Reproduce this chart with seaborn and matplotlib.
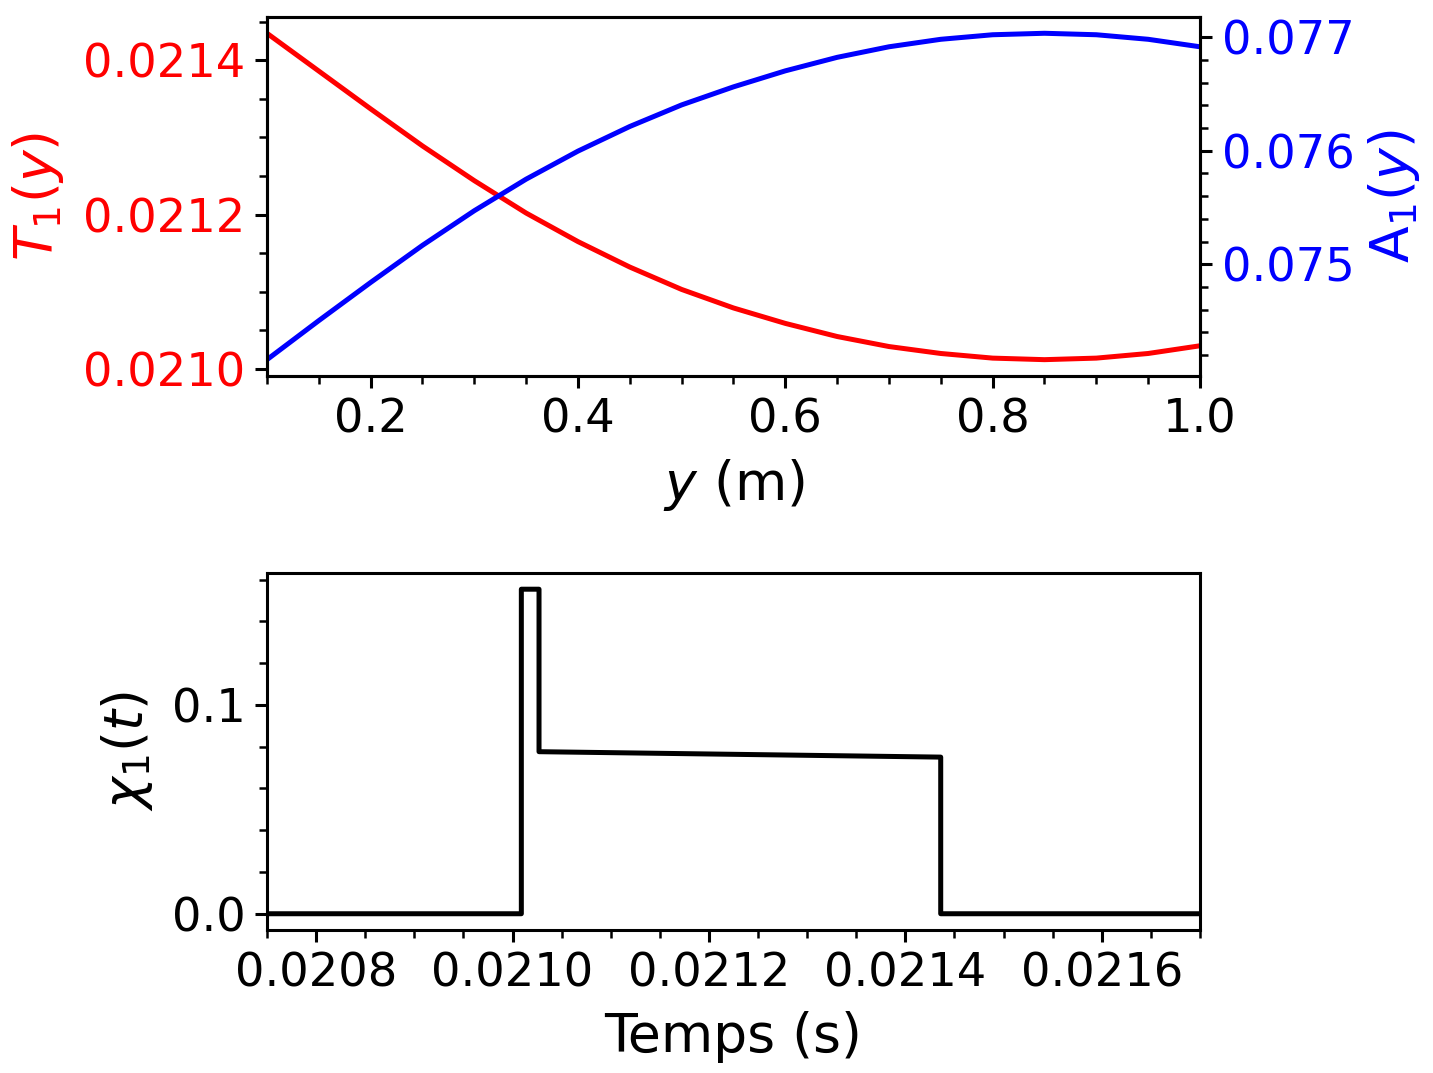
import numpy as np
import pandas as pd
import matplotlib
matplotlib.use('Agg')
import matplotlib.pyplot as plt
from matplotlib.ticker import MultipleLocator, AutoMinorLocator
import seaborn as sns

# --- données ---
# profil le long de y
y_pos = [0.10, 0.15, 0.20, 0.25, 0.30, 0.35, 0.40, 0.45, 0.50, 0.55,
         0.60, 0.65, 0.70, 0.75, 0.80, 0.85, 0.90, 0.95, 1.00]
T1 = [0.021435, 0.021386, 0.021337, 0.021289, 0.021244, 0.021202, 0.021165,
      0.021132, 0.021103, 0.021079, 0.021059, 0.021042, 0.021029, 0.021020,
      0.021014, 0.021012, 0.021014, 0.021020, 0.021030]
A1 = [0.074160, 0.074504, 0.074840, 0.075167, 0.075472, 0.075750, 0.075997,
      0.076214, 0.076404, 0.076563, 0.076704, 0.076823, 0.076916, 0.076982,
      0.077022, 0.077035, 0.077022, 0.076982, 0.076916]

# signal chi_1(t) (créneau)
t_vals = [0.02070, 0.021009, 0.021009, 0.021027, 0.021027, 0.021436, 0.021436, 0.02180]
chi1 = [0.0, 0.0, 0.1554, 0.1554, 0.0776, 0.0750, 0.0, 0.0]

TICK_FS = 16.7
LABEL_FS = 19.3
RED = '#ff0000'
BLUE = '#0000ff'

sns.set_style('ticks')
plt.rcParams['font.family'] = ['DejaVu Sans']
plt.rcParams['axes.linewidth'] = 1.1
plt.rcParams['axes.labelcolor'] = 'black'
plt.rcParams['text.color'] = 'black'
plt.rcParams['axes.edgecolor'] = 'black'
for ax_name in ['xtick', 'ytick']:
    plt.rcParams[f'{ax_name}.major.size'] = 4.3
    plt.rcParams[f'{ax_name}.major.width'] = 1.1
    plt.rcParams[f'{ax_name}.minor.size'] = 2.9
    plt.rcParams[f'{ax_name}.minor.width'] = 0.9
    plt.rcParams[f'{ax_name}.color'] = 'black'
    plt.rcParams[f'{ax_name}.labelcolor'] = 'black'

df_prof = pd.DataFrame({'y': y_pos, 'T1': T1, 'A1': A1})
df_chi = pd.DataFrame({'t': t_vals, 'chi': chi1})

fig = plt.figure(figsize=(1433 / 200, 1073 / 200), dpi=200)
ax1 = fig.add_axes([0.1863, 0.6496, 0.8374 - 0.1863, 0.9842 - 0.6496])
ax3 = fig.add_axes([0.1863, 0.1333, 0.8374 - 0.1863, 0.4660 - 0.1333])

# --- haut : T1 et A1 ---
sns.lineplot(data=df_prof, x='y', y='T1', color=RED, lw=1.8, ax=ax1)
ax2 = ax1.twinx()
sns.lineplot(data=df_prof, x='y', y='A1', color=BLUE, lw=1.8, ax=ax2)

ax1.set_xlim(0.1, 1.0)
ax1.xaxis.set_major_locator(MultipleLocator(0.2))
ax1.yaxis.set_major_locator(MultipleLocator(0.0002))
ax2.yaxis.set_major_locator(MultipleLocator(0.001))
for a in (ax1, ax2):
    a.xaxis.set_minor_locator(AutoMinorLocator())
    a.yaxis.set_minor_locator(AutoMinorLocator())
    a.ticklabel_format(useOffset=False)
    for s in a.spines.values():
        s.set_visible(True)
        s.set_color('black')

ax1.set_xlabel(r'$y$ (m)', fontsize=LABEL_FS, labelpad=5)
ax1.set_ylabel(r'$T_1(y)$', fontsize=LABEL_FS, color=RED, labelpad=6)
ax2.set_ylabel(r'A$_1(y)$', fontsize=LABEL_FS, color=BLUE, labelpad=4)
ax1.tick_params(axis='x', labelsize=TICK_FS)
ax1.tick_params(axis='y', labelsize=TICK_FS, labelcolor=RED)
ax2.tick_params(axis='y', labelsize=TICK_FS, labelcolor=BLUE)

# --- bas : chi_1(t) ---
sns.lineplot(data=df_chi, x='t', y='chi', color='black', lw=1.8,
             sort=False, estimator=None, ax=ax3)
ax3.set_xlim(0.02075, 0.0217)
ax3.xaxis.set_major_locator(MultipleLocator(0.0002))
ax3.yaxis.set_major_locator(MultipleLocator(0.1))
ax3.xaxis.set_minor_locator(AutoMinorLocator())
ax3.yaxis.set_minor_locator(AutoMinorLocator())
ax3.ticklabel_format(useOffset=False)
for s in ax3.spines.values():
    s.set_visible(True)
    s.set_color('black')
ax3.set_xlabel('Temps (s)', fontsize=LABEL_FS, labelpad=5)
ax3.set_ylabel(r'$\chi_1(t)$', fontsize=LABEL_FS, labelpad=6)
ax3.tick_params(labelsize=TICK_FS)

fig.savefig('out.png', dpi=200)
plt.close(fig)
